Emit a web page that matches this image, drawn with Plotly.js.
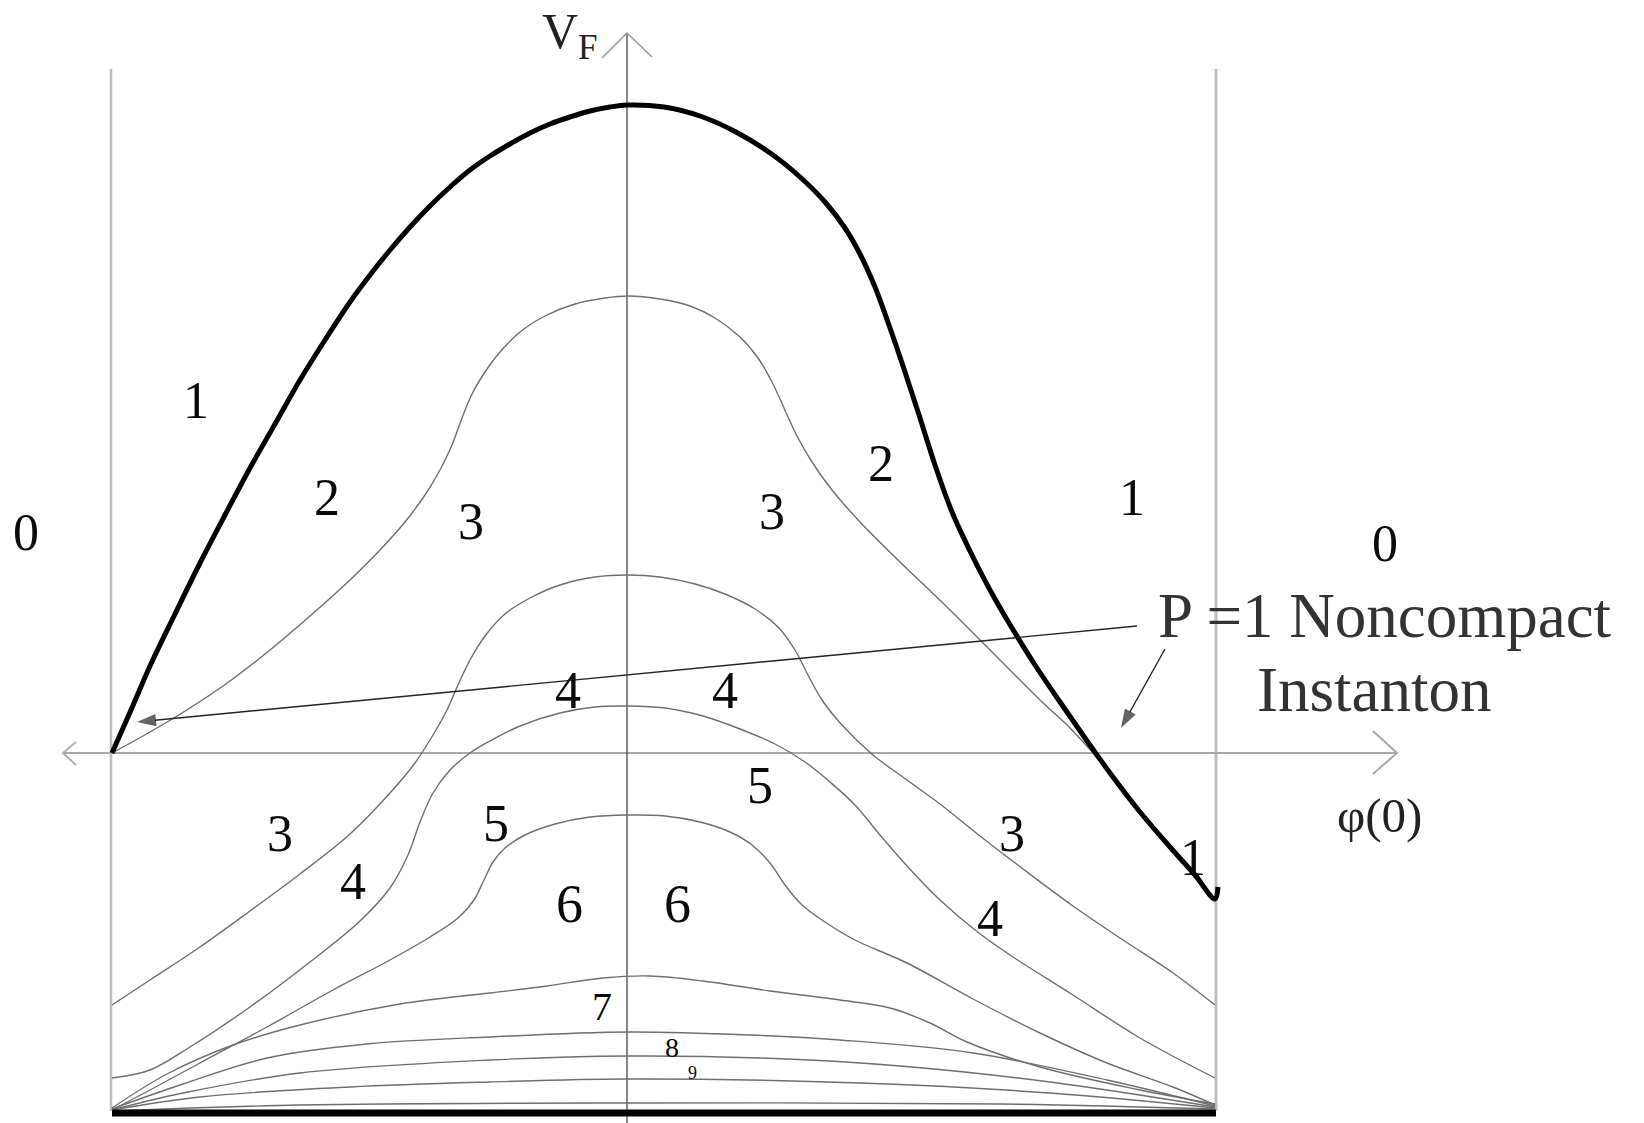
<!DOCTYPE html>
<html>
<head>
<meta charset="utf-8">
<script src="https://cdn.plot.ly/plotly-3.0.1.min.js"></script>
<style>html,body{margin:0;padding:0;background:#fff;} #chart{width:1644px;height:1123px;}</style>
</head>
<body>
<div id="chart"></div>
<script>
// Units: phi(0) and V_F in arbitrary units (phi=0 at the V_F axis, V_F=0 at the phi axis)
// Thick bold curve: P=1 noncompact instanton boundary
const thickX = [-515,-496,-477,-452,-427,-402,-377,-352,-327,-302,-277,-257,-237,-217,-197,-177,-157,-137,-117,-97,-77,-57,-37,-17,0,37,73,109,146,173,198,218,233,248,263,278,293,308,325,343,363,385,408,433,458,483,513,543,568,588,591];
const thickY = [0,43,87,139,190,238,285,329,373,413,451,478,503,526,547,566,583,597,609,620,629,636,642,646,648,646,637,621,598,576,551,525,499,466,425,381,335,288,241,202,163,125,88,51,15,-20,-59,-94,-122,-146,-134];

// Thin curves (boundaries between regions)
const c1X = [-515,-477,-437,-397,-357,-317,-277,-247,-222,-202,-187,-175,-165,-155,-142,-127,-107,-82,-52,-22,1,33,63,88,113,131,145,157,170,185,205,233,273,323,373,413,443,466,483,513,543,568,588];
const c1Y = [0,21,45,72,103,137,173,203,231,258,283,308,335,359,381,401,421,437,449,455,457,454,447,435,416,395,371,345,317,291,263,231,191,143,93,53,25,0,-20,-59,-94,-122,-146];

const c2X = [-515,-477,-427,-377,-327,-277,-237,-212,-194,-180,-169,-157,-142,-122,-97,-67,-32,1,33,68,98,128,151,168,181,195,215,246,280,313,353,396,446,496,546,588];
const c2Y = [-252,-227,-194,-158,-121,-81,-40,-10,18,43,68,93,117,139,155,168,176,178,176,169,159,144,126,103,78,53,28,-2,-27,-51,-83,-116,-153,-187,-220,-252];

const c3X = [-515,-477,-437,-377,-317,-267,-237,-219,-207,-194,-177,-157,-137,-107,-67,-32,1,38,76,113,148,178,203,228,253,280,313,348,383,446,513,588];
const c3Y = [-325,-317,-294,-254,-209,-168,-135,-102,-69,-40,-17,0,12,27,40,46,47,45,37,24,9,-9,-29,-52,-82,-113,-147,-177,-202,-242,-285,-325];

const c4X = [-515,-477,-427,-360,-294,-237,-197,-169,-153,-143,-134,-122,-102,-72,-37,1,38,73,103,125,143,158,175,198,228,280,346,413,480,546,588];
const c4Y = [-357,-337,-310,-274,-237,-207,-184,-165,-147,-127,-109,-95,-82,-71,-64,-62,-63,-69,-79,-92,-110,-132,-152,-169,-187,-210,-246,-280,-310,-334,-352];

const c5X = [-515,-460,-394,-327,-227,-137,-80,-24,23,76,143,213,263,303,340,413,513,588];
const c5Y = [-355,-321,-292,-272,-251,-240,-233,-225,-223,-228,-238,-247,-255,-270,-289,-314,-337,-351];

const c6X = [-515,-444,-360,-260,-137,1,123,213,346,480,588];
const c6Y = [-356,-331,-305,-291,-284,-279,-282,-287,-300,-327,-353];

const c7X = [-515,-444,-327,-137,1,133,273,423,588];
const c7Y = [-357,-340,-320,-307,-303,-305,-313,-329,-354];

const c8X = [-515,-427,-277,-137,1,233,423,588];
const c8Y = [-357,-344,-334,-329,-326,-330,-340,-355];

const c9X = [-515,-327,1,373,588];
const c9Y = [-358,-352,-350,-351,-356];

// Bottom bold line
const baseX = [-515, 589];
const baseY = [-360, -360];

// Frame lines
const leftWallX = [-516,-516], leftWallY = [-358, 684];
const rightWallX = [589,589], rightWallY = [-358, 684];
const vAxisX = [0,0], vAxisY = [-370, 720];
const hAxisX = [-564, 770], hAxisY = [0, 0];
const vArrowX = [-25,0,25], vArrowY = [695,720,696];
const hArrowRX = [746,770,746], hArrowRY = [22,0,-21];
const hArrowLX = [-551,-564,-551], hArrowLY = [11,0,-12];

// Pointer arrows (tail -> head)
const pointer1X = [510, -490], pointer1Y = [127, 31];
const pointer2X = [538, 494],  pointer2Y = [104, 25];

// Region labels
const labelText = ['0','1','2','3','3','2','1','0','4','4','5','5','3','4','6','6','7','8','9','3','4','1'];
const labelX    = [-601,-431,-300,-156,145,254,505,758,-59,98,133,-131,-347,-274,-58,50,-25,45,65,385,363,566];
const labelY    = [221,353,256,232,242,290,256,210,63,63,-32,-70,-80,-128,-151,-151,-253,-294,-320,-80,-165,-104];
const labelSize = [52,52,52,52,52,52,52,52,52,52,52,52,52,52,54,54,40,28,18,52,52,52];

// Annotation texts
const axisYTitle = 'V<sub>F</sub>';
const axisXTitle = '\u03c6(0)';
const noteLine1 = 'P =1 Noncompact';
const noteLine2 = 'Instanton';

const grayCurve = {color:'#6e6e6e', width:1.4};
function lineTrace(x, y, line, shape) {
  return {x:x, y:y, type:'scatter', mode:'lines', line:Object.assign({shape: shape || 'linear', smoothing:1}, line), hoverinfo:'skip', showlegend:false};
}
function arrowTrace(x, y) {
  return {x:x, y:y, type:'scatter', mode:'lines+markers', line:{color:'#222222', width:1.4},
    marker:{symbol:'arrow', size:[0, 20], angleref:'previous', color:'#222222', line:{width:0}},
    hoverinfo:'skip', showlegend:false, cliponaxis:false};
}

const traces = [
  lineTrace(leftWallX, leftWallY, {color:'#bdbdbd', width:2.5}),
  lineTrace(rightWallX, rightWallY, {color:'#bdbdbd', width:3}),
  lineTrace(hAxisX, hAxisY, {color:'#a8a8a8', width:2}),
  lineTrace(hArrowRX, hArrowRY, {color:'#a8a8a8', width:2}),
  lineTrace(hArrowLX, hArrowLY, {color:'#b0b0b0', width:2}),
  lineTrace(vAxisX, vAxisY, {color:'#555555', width:1.4}),
  lineTrace(vArrowX, vArrowY, {color:'#9a9a9a', width:1.6}),
  lineTrace(c1X, c1Y, grayCurve, 'spline'),
  lineTrace(c2X, c2Y, grayCurve, 'spline'),
  lineTrace(c3X, c3Y, grayCurve, 'spline'),
  lineTrace(c4X, c4Y, grayCurve, 'spline'),
  lineTrace(c5X, c5Y, grayCurve, 'spline'),
  lineTrace(c6X, c6Y, grayCurve, 'spline'),
  lineTrace(c7X, c7Y, grayCurve, 'spline'),
  lineTrace(c8X, c8Y, grayCurve, 'spline'),
  lineTrace(c9X, c9Y, grayCurve, 'spline'),
  lineTrace(thickX, thickY, {color:'#000000', width:5}, 'spline'),
  lineTrace(baseX, baseY, {color:'#000000', width:7}),
  arrowTrace(pointer1X, pointer1Y),
  arrowTrace(pointer2X, pointer2Y)
];

const serif = 'Liberation Serif, Times New Roman, serif';
const annotations = [];
for (let i = 0; i < labelText.length; i++) {
  annotations.push({x:labelX[i], y:labelY[i], xref:'x', yref:'y', text:labelText[i], showarrow:false,
    xanchor:'center', yanchor:'middle', font:{family:serif, size:labelSize[i], color:'#0a0a0a'}});
}
annotations.push({x:-27, y:718, xref:'x', yref:'y', text:axisYTitle, showarrow:false, xanchor:'right', yanchor:'middle',
  font:{family:serif, size:50, color:'#222222'}});
annotations.push({x:752, y:-62, xref:'x', yref:'y', text:axisXTitle, showarrow:false, xanchor:'center', yanchor:'middle',
  font:{family:serif, size:49, color:'#222222'}});
annotations.push({x:529, y:137, xref:'x', yref:'y', text:noteLine1, showarrow:false, xanchor:'left', yanchor:'middle',
  font:{family:serif, size:63, color:'#333333'}});
annotations.push({x:628, y:63, xref:'x', yref:'y', text:noteLine2, showarrow:false, xanchor:'left', yanchor:'middle',
  font:{family:serif, size:63, color:'#333333'}});

const layout = {
  width:1644, height:1123,
  margin:{l:0, r:0, t:0, b:0, pad:0},
  paper_bgcolor:'#ffffff', plot_bgcolor:'#ffffff',
  showlegend:false,
  xaxis:{range:[-627, 1017], visible:false, showgrid:false, zeroline:false, fixedrange:true},
  yaxis:{range:[-370, 753], visible:false, showgrid:false, zeroline:false, fixedrange:true},
  annotations: annotations
};

Plotly.newPlot('chart', traces, layout, {staticPlot:true, displayModeBar:false});
</script>
</body>
</html>
